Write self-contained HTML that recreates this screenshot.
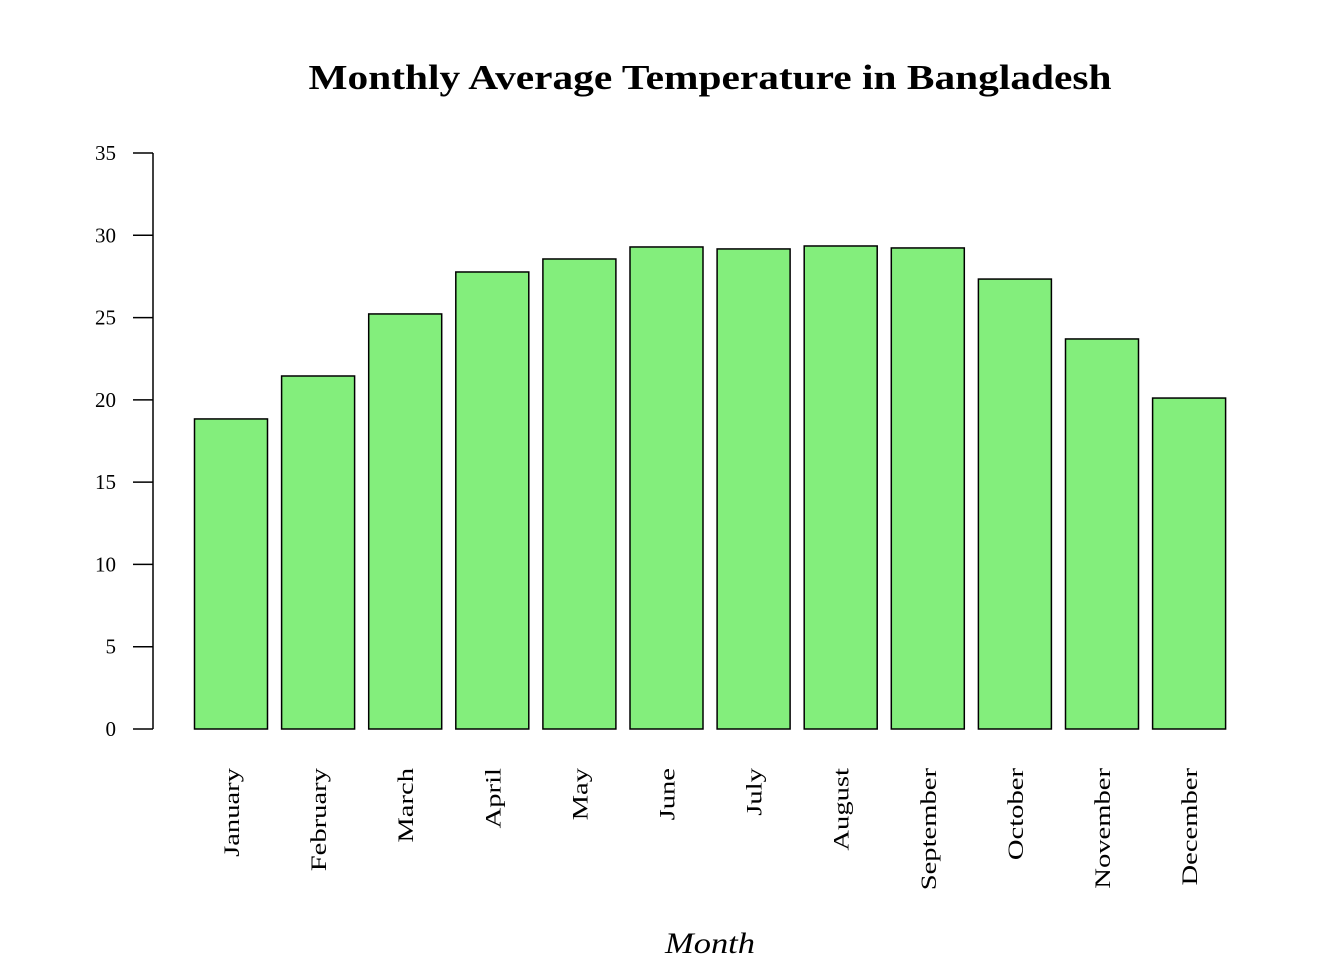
<!DOCTYPE html>
<html>
<head>
<meta charset="utf-8">
<style>
html,body{margin:0;padding:0;background:#fff;}
svg text{font-family:"Liberation Serif",serif;fill:#000;}
</style>
</head>
<body>
<svg id="chart" width="1344" height="960" viewBox="0 0 1344 960" xmlns="http://www.w3.org/2000/svg">
<text x="710" y="89" text-anchor="middle" font-size="35" font-weight="bold" textLength="803" lengthAdjust="spacingAndGlyphs">Monthly Average Temperature in Bangladesh</text>
<text x="710" y="953" text-anchor="middle" font-size="30" font-style="italic" textLength="90" lengthAdjust="spacingAndGlyphs">Month</text>
<g id="yaxis"></g>
<g id="bars"></g>
<g id="xlabels"></g>
</svg>
<script>
const categories = ["January","February","March","April","May","June","July","August","September","October","November","December"];
const temps = [18.84, 21.45, 25.22, 27.77, 28.56, 29.29, 29.17, 29.35, 29.23, 27.34, 23.70, 20.11];
const yTicks = [0, 5, 10, 15, 20, 25, 30, 35];

const NS = "http://www.w3.org/2000/svg";
const y0 = 729, y35 = 153;
const yScale = v => y0 - (v / 35) * (y0 - y35);
const xStart = 194.5, step = 87.1, barW = 73;
const xScale = i => xStart + i * step;

function mk(tag, attrs, parent){
  const e = document.createElementNS(NS, tag);
  for (const k in attrs) e.setAttribute(k, attrs[k]);
  parent.appendChild(e);
  return e;
}
const yaxis = document.getElementById('yaxis');
const axisLine = mk('line', {x1:153, x2:153, y1:yScale(0), y2:yScale(35), stroke:'#000', 'stroke-width':1.5}, yaxis);


yTicks.forEach(t => {
  const y = yScale(t);
  const tk = mk('line', {x1:133, x2:153, y1:y, y2:y, stroke:'#000', 'stroke-width':1.5}, yaxis);
  
  
  const tx = mk('text', {x:116, y:y+7, 'text-anchor':'end', 'font-size':21}, yaxis);
  
  
  tx.textContent = t;
});
const bars = document.getElementById('bars');
const xl = document.getElementById('xlabels');
temps.forEach((v, i) => {
  const x = xScale(i);
  const r = mk('rect', {x:x, y:yScale(v), width:barW, height:yScale(0)-yScale(v), fill:'#83ee7c', stroke:'#000', 'stroke-width':1.5}, bars);
  
  
  const cx = x + barW/2 + 8;
  const t = mk('text', {x:cx, y:768, 'text-anchor':'end', 'font-size':22, transform:'rotate(-90 '+cx+' 768)'}, xl);
  
  
  t.textContent = categories[i];
  const len = t.getComputedTextLength();
  if (len > 0) {
    t.setAttribute('textLength', (len * 1.3).toFixed(1));
    t.setAttribute('lengthAdjust', 'spacingAndGlyphs');
  }
});
</script>
</body>
</html>
